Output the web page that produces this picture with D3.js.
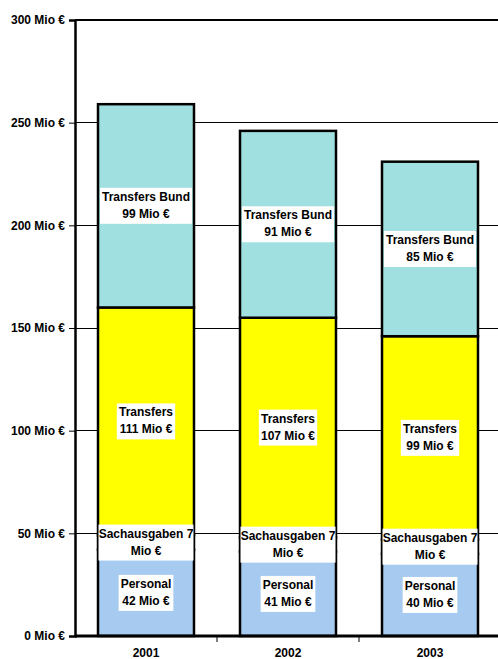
<!DOCTYPE html>
<html>
<head>
<meta charset="utf-8">
<script src="https://cdn.jsdelivr.net/npm/d3@7"></script>
<style>
  body { margin: 0; background: #fff; }
  svg { display: block; font-family: "Liberation Sans", Arial, sans-serif; }
</style>
</head>
<body>
<svg id="chart" width="498" height="659"></svg>
<script>
const years = ["2001", "2002", "2003"];
const seriesNames = ["Personal", "Sachausgaben", "Transfers", "Transfers Bund"];
const personal = [42, 41, 40];
const sachausgaben = [7, 7, 7];
const transfers = [111, 107, 99];
const transfersBund = [99, 91, 85];
const yTicks = [0, 50, 100, 150, 200, 250, 300];
const tickLabels = yTicks.map(v => v + " Mio €");
const labelLines = {
  "Personal": v => ["Personal", v + " Mio €"],
  "Sachausgaben": v => ["Sachausgaben " + v, "Mio €"],
  "Transfers": v => ["Transfers", v + " Mio €"],
  "Transfers Bund": v => ["Transfers Bund", v + " Mio €"]
};
const colors = { "Personal": "#A6CAF0", "Sachausgaben": "#993366", "Transfers": "#FFFF00", "Transfers Bund": "#A0E0E0" };

const seriesValues = { "Personal": personal, "Sachausgaben": sachausgaben, "Transfers": transfers, "Transfers Bund": transfersBund };
const table = years.map((yr, i) => {
  const row = { year: yr };
  seriesNames.forEach(s => row[s] = seriesValues[s][i]);
  return row;
});

const svg = d3.select("#chart");
const mLeft = 75, mRight = 501, mTop = 20, mBottom = 636;

const y = d3.scaleLinear().domain([0, 300]).range([mBottom, mTop]);
const xCat = d3.scaleBand().domain(years).range([mLeft, mRight]).padding(0);
const x = d3.scaleBand().domain(years).range([mLeft, mRight]).paddingInner(0.324).paddingOuter(0.162);

// gridlines
svg.append("g").selectAll("line").data(yTicks.filter(t => t > 0 && t < 300)).join("line")
  .attr("x1", mLeft).attr("x2", mRight)
  .attr("y1", d => y(d)).attr("y2", d => y(d))
  .attr("stroke", "#000").attr("stroke-width", 1).attr("shape-rendering", "crispEdges");

// top border
svg.append("line").attr("x1", mLeft).attr("x2", mRight).attr("y1", y(300)).attr("y2", y(300))
  .attr("stroke", "#000").attr("stroke-width", 2);

// stacked bars
const stack = d3.stack().keys(seriesNames)(table);
const barG = svg.append("g");
stack.forEach(layer => {
  barG.selectAll(null).data(layer).join("rect")
    .attr("x", d => x(d.data.year))
    .attr("width", x.bandwidth())
    .attr("y", d => y(d[1]))
    .attr("height", d => y(d[0]) - y(d[1]))
    .attr("fill", colors[layer.key])
    .attr("stroke", "#000").attr("stroke-width", 2.5);
});

// y axis
const yAxis = d3.axisLeft(y).tickValues(yTicks).tickSize(6).tickPadding(4)
  .tickFormat((d, i) => tickLabels[i]);
const ya = svg.append("g").attr("transform", `translate(${mLeft},0)`).call(yAxis);
ya.select(".domain").attr("stroke-width", 2.5);
ya.selectAll(".tick line").attr("stroke-width", 1);
ya.selectAll(".tick text").attr("font-size", 12).attr("font-weight", "bold")
  .attr("font-family", "Liberation Sans, Arial, sans-serif").attr("fill", "#000");

// x axis
const xa = svg.append("g").attr("transform", `translate(0,${mBottom})`)
  .call(d3.axisBottom(xCat).tickSize(0).tickPadding(12));
xa.select(".domain").attr("stroke-width", 3).attr("d", `M${mLeft},0H${mRight}`);
xa.selectAll(".tick text").attr("font-size", 12).attr("font-weight", "bold")
  .attr("font-family", "Liberation Sans, Arial, sans-serif").attr("fill", "#000");
// category boundary ticks
svg.append("g").selectAll("line").data(years.slice(1)).join("line")
  .attr("x1", d => xCat(d)).attr("x2", d => xCat(d))
  .attr("y1", mBottom + 1).attr("y2", mBottom + 6)
  .attr("stroke", "#000").attr("stroke-width", 1);

// labels
const labG = svg.append("g");
stack.forEach(layer => {
  layer.forEach(d => {
    const cx = x(d.data.year) + x.bandwidth() / 2;
    const cy = y((d[0] + d[1]) / 2);
    const lines = labelLines[layer.key](d.data[layer.key]);
    const g = labG.append("g");
    const rect = g.append("rect").attr("fill", "#fff");
    const t = g.append("text").attr("text-anchor", "middle")
      .attr("font-size", 12).attr("font-weight", "bold").attr("fill", "#000");
    lines.forEach((ln, i) => {
      t.append("tspan").attr("x", cx).attr("y", cy - 5 + i * 17).text(ln);
    });
    const bb = t.node().getBBox();
    const w = Math.min(bb.width + 4, x.bandwidth() - 1);
    rect.attr("x", cx - w / 2).attr("width", w)
      .attr("y", cy - 18).attr("height", 36);
  });
});
</script>
</body>
</html>
